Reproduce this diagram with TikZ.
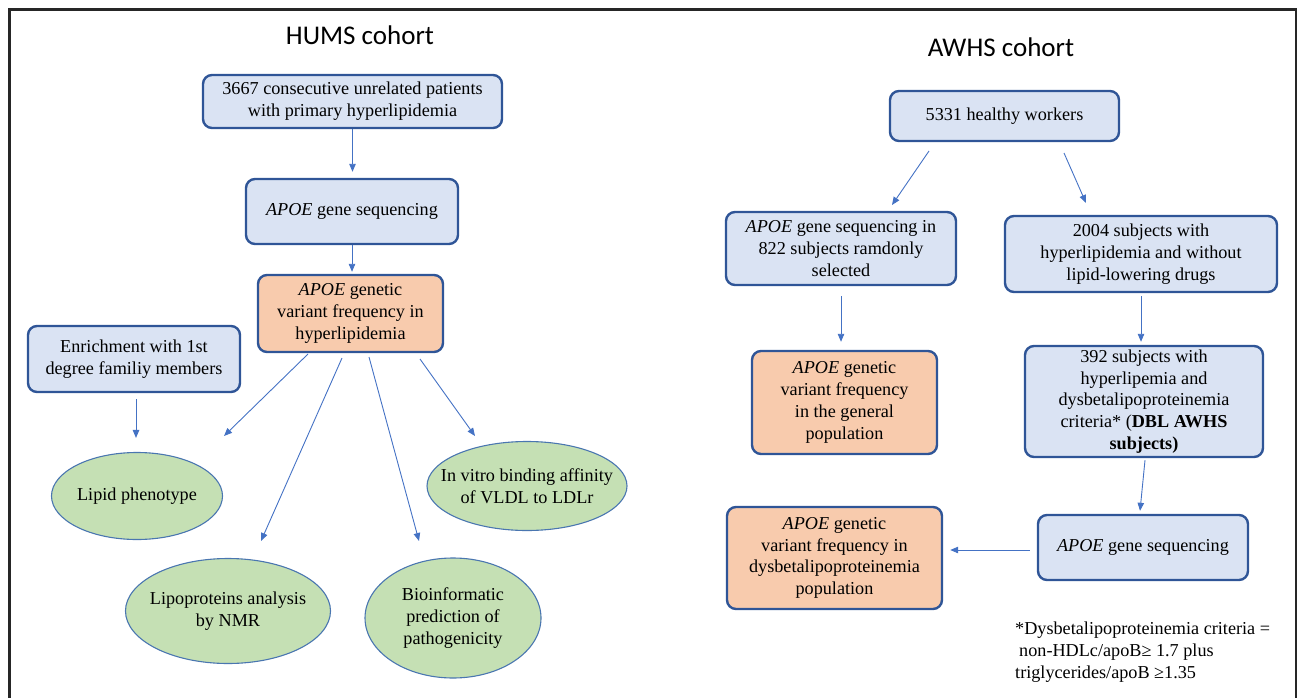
\documentclass[tikz,border=0pt]{standalone}
\usepackage{fontspec}
\setmainfont{Liberation Serif}
\newfontfamily\bodyfont{Liberation Serif}
\newfontfamily\headfont{Carlito}
\usetikzlibrary{calc,shapes.geometric,arrows.meta}

\definecolor{boxline}{HTML}{2F5597}
\definecolor{boxblue}{HTML}{DAE3F3}
\definecolor{boxorange}{HTML}{F8CBAD}
\definecolor{ovalgreen}{HTML}{C5E0B4}
\definecolor{ovalline}{HTML}{4A76B0}
\definecolor{arrowblue}{HTML}{4472C4}
\definecolor{frameline}{HTML}{262626}

\tikzset{
	bluebox/.style={draw=boxline, fill=boxblue, line width=2.4pt, rounded corners=9pt, align=center, inner sep=1pt},
	orangebox/.style={bluebox, fill=boxorange},
	oval/.style={ellipse, draw=ovalline, fill=ovalgreen, line width=1.1pt, align=center, inner xsep=-40pt, inner ysep=0pt},
	arr/.style={draw=arrowblue, line width=0.9pt, -{Triangle[length=8pt,width=6.5pt]}},
	cohort/.style={font=\headfont\fontsize{27}{32}\selectfont, anchor=base, inner sep=0pt},
}

\begin{document}
\begin{tikzpicture}[x=1pt, y=-1pt, font=\bodyfont\fontsize{18.2}{21.8}\selectfont]
			%%%%% START %%%%%
			\useasboundingbox (0,0) rectangle (1298,698);
			\draw[line width=2.6pt, color=frameline] (9.5,700) -- (9.5,9.5) -- (1296,9.5) -- (1296,700);
			
			% HUMS side
			\node[cohort] (humstitle) at (360,45) {HUMS cohort};
			\node[bluebox, minimum width=299pt, minimum height=53pt] (hums) at (352.5,101.5) {3667 consecutive unrelated patients\\with primary hyperlipidemia};
			\node[bluebox, minimum width=212pt, minimum height=65pt] (seqh) at (352,211.5) {\textit{APOE} gene sequencing};
			\node[orangebox, minimum width=185pt, minimum height=77pt] (freqh) at (350.5,313.5) {\textit{APOE} genetic\\variant frequency in\\hyperlipidemia};
			\node[bluebox, minimum width=212pt, minimum height=66pt] (enrich) at (134,359) {Enrichment with 1st\\degree familiy members};
			
			\node[oval, minimum width=171pt, minimum height=87pt] (lipid) at (137,496) {Lipid phenotype};
			\node[oval, minimum width=200pt, minimum height=89pt] (vitro) at (527,486) {In vitro binding affinity\\of VLDL to LDLr};
			\node[oval, minimum width=205pt, minimum height=105pt] (nmr) at (228,611) {Lipoproteins analysis\\by NMR};
			\node[oval, minimum width=176pt, minimum height=120pt] (bioinf) at (453,618) {Bioinformatic\\prediction of\\pathogenicity};
			
			\draw[arr, shorten >=6pt] (hums.south) -- (hums.south |- seqh.north);
			\draw[arr, shorten >=2pt] (seqh.south) -- (seqh.south |- freqh.north);
			\draw[arr] ($(enrich.south)+(2,6)$) -- ($(lipid.north)+(-1,-14)$);
			\draw[arr] ($(freqh)+(-42.5,40.5)$) -- ($(lipid)+(87,-60)$);
			\draw[arr] ($(freqh)+(-8.5,44.5)$) -- ($(nmr)+(33,-70)$);
			\draw[arr] ($(freqh)+(18.5,43.5)$) -- ($(bioinf)+(-34,-77)$);
			\draw[arr] ($(freqh)+(69.5,45.5)$) -- ($(vitro)+(-52,-50)$);
			
			% AWHS side
			\node[cohort] (awhstitle) at (1001,57) {AWHS cohort};
			\node[bluebox, minimum width=229pt, minimum height=50pt] (awhs) at (1004.5,116) {5331 healthy workers};
			\node[bluebox, minimum width=230pt, minimum height=73pt] (seqa) at (841,248.5) {\textit{APOE} gene sequencing in\\822 subjects ramdonly\\selected};
			\node[bluebox, minimum width=272pt, minimum height=76pt] (hyper) at (1141,254) {2004 subjects with\\hyperlipidemia and without\\lipid-lowering drugs};
			\node[orangebox, minimum width=185pt, minimum height=103pt] (freqg) at (844.5,402.5) {\textit{APOE} genetic\\variant frequency\\in the general\\population};
			\node[bluebox, minimum width=238pt, minimum height=111pt] (dbl) at (1144,401.5) {392 subjects with\\hyperlipemia and\\dysbetalipoproteinemia\\criteria* (\textbf{DBL AWHS}\\\textbf{subjects)}};
			\node[bluebox, minimum width=210pt, minimum height=65pt] (seqd) at (1143,547.5) {\textit{APOE} gene sequencing};
			\node[orangebox, minimum width=215pt, minimum height=102pt] (freqd) at (834.5,558) {\textit{APOE} genetic\\variant frequency in\\dysbetalipoproteinemia\\population};
			
			\draw[arr] ($(awhs)+(-75.5,35)$) -- ($(seqa)+(51,-43.5)$);
			\draw[arr] ($(awhs)+(59.5,37)$) -- ($(hyper)+(-55,-51)$);
			\draw[arr, shorten <=10pt, shorten >=8pt] (seqa.south) -- (seqa.south |- freqg.north);
			\draw[arr, shorten <=3pt, shorten >=3pt] (hyper.south) -- (hyper.south |- dbl.north);
			\draw[arr] ($(dbl.south)+(1,2)$) -- ($(seqd.north)+(-3,-3)$);
			\draw[arr] ($(seqd.west)+(-7,2.5)$) -- ($(freqd.east)+(7,-8)$);
			
			\node[anchor=north west, align=left, inner sep=0pt] (note) at (1015,622) {*Dysbetalipoproteinemia criteria =\\\hspace{4pt}non-HDLc/apoB≥ 1.7 plus\\triglycerides/apoB ≥1.35};
			%%%%% END %%%%%
\end{tikzpicture}
\end{document}
